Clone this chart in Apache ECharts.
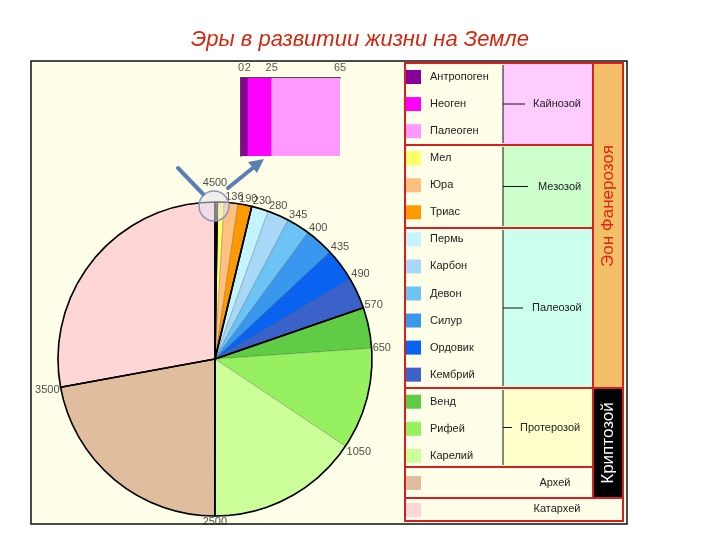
<!DOCTYPE html>
<html>
<head>
<meta charset="utf-8">
<script src="https://cdn.jsdelivr.net/npm/echarts@6/dist/echarts.min.js"></script>
<style>
  html, body { margin: 0; padding: 0; background: #fff; }
  #chart { width: 720px; height: 540px; }
</style>
</head>
<body>
<div id="chart"></div>
<script>
// periods, youngest first (clockwise from 12 o'clock)
const periods = ['Антропоген', 'Неоген', 'Палеоген', 'Мел', 'Юра', 'Триас', 'Пермь', 'Карбон', 'Девон',
  'Силур', 'Ордовик', 'Кембрий', 'Венд', 'Рифей', 'Карелий', 'Архей', 'Катархей'];
const periodColors = ['#880099', '#ff00ff', '#ff99ff', '#ffff66', '#ffc080', '#ff9900', '#c4f4ff', '#a8d8f8',
  '#6cc4f4', '#3a97ee', '#0a62f0', '#3a62c8', '#60cc46', '#96f060', '#ccff99', '#dfbd9d', '#ffd6d6'];
// slice size as drawn (degrees of the circle)
const sliceSpan = [0.15, 0.3, 0.4, 2.5, 5.1, 5.1, 6.2, 8, 8.6, 10.65, 12.5, 11.45, 15.1, 37.7, 56.3, 79.6, 100.35];
// age (Ma) written at the end of each slice
const boundaryLabels = ['', '', '', '136', '190', '230', '280', '345', '400', '435', '490', '570', '650',
  '1050', '2500', '3500', '4500'];
const periodEra = [0, 0, 0, 1, 1, 1, 2, 2, 2, 2, 2, 2, 3, 3, 3, 4, 5];
const eras = ['Кайнозой', 'Мезозой', 'Палеозой', 'Протерозой', 'Архей', 'Катархей'];

// zoomed inset of the cenozoic
const insetNames = ['Антропоген', 'Неоген', 'Палеоген'];
const insetSpan = [7, 24, 69];
const insetTicks = ['0', '2', '25', '65'];

const FONT = 'Arial, "Liberation Sans", sans-serif';
const RED = '#d42020';

const chart = echarts.init(document.getElementById('chart'));

// era totals for the black outlines
const eraSpan = eras.map((e, k) => sliceSpan.reduce((s, v, i) => periodEra[i] === k ? s + v : s, 0));

// boundary points on the rim
let acc = 0;
const boundaryPoints = [];
sliceSpan.forEach((v, i) => {
  acc += v;
  if (!boundaryLabels[i]) return;
  let label;
  if (acc > 359) label = { position: 'top', distance: 14 };
  else if (acc > 250) label = { position: 'left', distance: 1, offset: [0, 3] };
  else if (acc > 170) label = { position: 'bottom', distance: 0 };
  else if (acc > 100) label = { position: 'right', distance: 1, offset: [0, 6] };
  else if (acc > 80) label = { position: 'right', distance: 1, offset: [0, 0] };
  else if (acc > 65) label = { position: 'right', distance: 1, offset: [0, -3] };
  else label = { position: 'right', distance: 1, offset: [0, -5] };
  boundaryPoints.push({ name: boundaryLabels[i], value: [1, acc], label: label });
});

let insetAcc = 0;
const insetTickPos = [0].concat(insetSpan.map(v => (insetAcc += v)));

// table layout
const rows = [
  { y0: 63, y1: 145, bg: '#ffccff', text: 'Кайнозой', tx: 533, lx: 525 },
  { y0: 145, y1: 228, bg: '#ccffcc', text: 'Мезозой', tx: 538, lx: 528 },
  { y0: 228, y1: 388, bg: '#ccffee', text: 'Палеозой', tx: 532, lx: 523 },
  { y0: 388, y1: 467, bg: '#ffffcc', text: 'Протерозой', tx: 520, lx: 512 }
];
const graphics = [
  { type: 'rect', z: 0, shape: { x: 31, y: 61, width: 596, height: 463 },
    style: { fill: '#fffee8', stroke: '#111', lineWidth: 1.5 } },
  { type: 'rect', z: 1, shape: { x: 593, y: 63, width: 30, height: 325 }, style: { fill: '#f3c069' } },
  { type: 'rect', z: 1, shape: { x: 593, y: 388, width: 30, height: 110 }, style: { fill: '#000' } },
  { type: 'text', z: 3, x: 608, y: 206, rotation: Math.PI / 2,
    style: { text: 'Эон Фанерозоя', fill: '#e82010', font: '17px ' + FONT, textAlign: 'center', textVerticalAlign: 'middle' } },
  { type: 'text', z: 3, x: 608, y: 443, rotation: Math.PI / 2,
    style: { text: 'Криптозой', fill: '#fff', font: '17px ' + FONT, textAlign: 'center', textVerticalAlign: 'middle' } },
  { type: 'text', z: 3, x: 555, y: 483,
    style: { text: 'Архей', fill: '#222', font: '11px ' + FONT, textAlign: 'center', textVerticalAlign: 'middle' } },
  { type: 'text', z: 3, x: 557, y: 509,
    style: { text: 'Катархей', fill: '#222', font: '11px ' + FONT, textAlign: 'center', textVerticalAlign: 'middle' } }
];
rows.forEach(r => {
  const mid = (r.y0 + r.y1) / 2;
  graphics.push(
    { type: 'rect', z: 1, shape: { x: 503, y: r.y0, width: 90, height: r.y1 - r.y0 }, style: { fill: r.bg } },
    { type: 'line', z: 2, shape: { x1: 503, y1: r.y0 + 2, x2: 503, y2: r.y1 - 2 }, style: { stroke: '#111', lineWidth: 1 } },
    { type: 'line', z: 2, shape: { x1: 503, y1: mid, x2: r.lx, y2: mid }, style: { stroke: '#111', lineWidth: 1 } },
    { type: 'text', z: 3, x: r.tx, y: mid,
      style: { text: r.text, fill: '#222', font: '11px ' + FONT, textVerticalAlign: 'middle' } }
  );
});
// red grid of the table
[[405, 145, 593, 145], [405, 228, 593, 228], [405, 388, 623, 388], [405, 467, 593, 467], [405, 498, 623, 498],
 [593, 63, 593, 498]].forEach(l => {
  graphics.push({ type: 'line', z: 2, shape: { x1: l[0], y1: l[1], x2: l[2], y2: l[3] }, style: { stroke: RED, lineWidth: 2 } });
});
graphics.push({ type: 'rect', z: 2, shape: { x: 405, y: 63, width: 218, height: 458 },
  style: { fill: 'none', stroke: RED, lineWidth: 2 } });

// magnifier and arrows
graphics.push(
  { type: 'circle', z: 10, shape: { cx: 214, cy: 206, r: 15 },
    style: { fill: 'rgba(225,228,238,0.55)', stroke: '#8a98b8', lineWidth: 1.5 } },
  { type: 'line', z: 11, shape: { x1: 178, y1: 168, x2: 203, y2: 194 },
    style: { stroke: '#5a7fb5', lineWidth: 4, lineCap: 'round' } },
  { type: 'line', z: 11, shape: { x1: 228, y1: 188, x2: 254, y2: 167 },
    style: { stroke: '#5a7fb5', lineWidth: 4, lineCap: 'round' } },
  { type: 'polygon', z: 11, shape: { points: [[264, 159], [248, 162], [257, 173]] },
    style: { fill: '#5a7fb5' } }
);

const option = {
  animation: false,
  backgroundColor: '#fff',
  title: {
    text: 'Эры в развитии жизни на Земле',
    left: 'center',
    top: 24,
    textStyle: { fontSize: 22, fontStyle: 'italic', fontWeight: 'normal', color: '#d02810', fontFamily: FONT }
  },
  legend: {
    orient: 'vertical',
    left: 406,
    top: 70,
    bottom: 5,
    padding: 0,
    itemWidth: 15,
    itemHeight: 14,
    itemGap: 13.06,
    icon: 'rect',
    selectedMode: false,
    data: periods,
    itemStyle: { borderWidth: 0 },
    formatter: name => (name === 'Архей' || name === 'Катархей') ? '' : name,
    textStyle: { fontSize: 11, color: '#222', fontFamily: FONT, lineHeight: 14, padding: [0, 0, 0, 4] }
  },
  graphic: graphics,
  polar: { center: [215, 359], radius: 157 },
  angleAxis: { type: 'value', min: 0, max: 360, startAngle: 90, clockwise: true, show: false },
  radiusAxis: { type: 'value', min: 0, max: 1, show: false },
  grid: { left: 241, top: 78, width: 99, height: 78 },
  xAxis: {
    type: 'value', min: 0, max: 100, position: 'top',
    axisLine: { show: true, lineStyle: { color: '#111', width: 1.5 } },
    axisTick: { show: false }, splitLine: { show: false },
    axisLabel: {
      customValues: insetTickPos,
      formatter: v => insetTicks[insetTickPos.indexOf(v)],
      color: '#555', fontSize: 11, fontFamily: FONT, margin: 5
    }
  },
  yAxis: {
    type: 'category', data: ['Кайнозой'], position: 'right',
    axisLine: { show: true, lineStyle: { color: '#111', width: 1.5 } },
    axisTick: { show: false }, axisLabel: { show: false }
  },
  series: [
    {
      type: 'pie',
      center: [215, 359],
      radius: 157,
      startAngle: 90,
      clockwise: true,
      silent: true,
      label: { show: false },
      labelLine: { show: false },
      itemStyle: { borderColor: 'rgba(40,40,40,0.35)', borderWidth: 0.6 },
      data: periods.map((p, i) => ({ name: p, value: sliceSpan[i], itemStyle: { color: periodColors[i] } }))
    },
    {
      type: 'pie',
      center: [215, 359],
      radius: 157,
      startAngle: 90,
      clockwise: true,
      silent: true,
      legendHoverLink: false,
      label: { show: false },
      labelLine: { show: false },
      itemStyle: { color: 'rgba(0,0,0,0)', borderColor: '#000', borderWidth: 1.6 },
      data: eraSpan.map(v => ({ value: v }))
    },
    {
      type: 'scatter',
      coordinateSystem: 'polar',
      symbolSize: 0,
      silent: true,
      z: 5,
      label: { show: true, formatter: '{b}', color: '#222', fontSize: 11, fontFamily: FONT },
      data: boundaryPoints
    }
  ].concat(insetNames.map((n, i) => ({
    type: 'bar',
    stack: 'inset',
    barWidth: '100%',
    silent: true,
    itemStyle: { color: periodColors[i] },
    data: [insetSpan[i]]
  })))
};
chart.setOption(option);
</script>
</body>
</html>
